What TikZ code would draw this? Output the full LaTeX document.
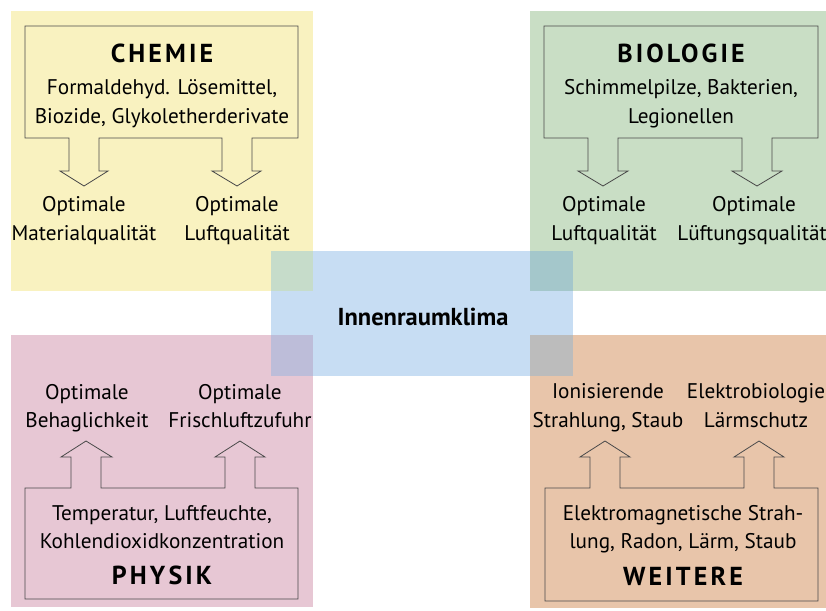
\documentclass[tikz,border=0pt]{standalone}
\usepackage{fontspec}
\setmainfont{PT Sans}
\definecolor{cyel}{HTML}{F9F2C0}
\definecolor{cgrn}{HTML}{C9DEC5}
\definecolor{cpnk}{HTML}{E7C7D4}
\definecolor{corg}{HTML}{E8C5AA}
\definecolor{cblu}{HTML}{C7DDF3}
\definecolor{oyel}{HTML}{C6DCCA}
\definecolor{ogrn}{HTML}{A4C7CB}
\definecolor{opnk}{HTML}{BDBDD9}
\definecolor{oorg}{HTML}{BCBCBC}
\definecolor{cline}{HTML}{4A4A4A}
\begin{document}
\begin{tikzpicture}[x=1pt,y=-1pt,
  frame/.style={draw=cline,line width=0.8pt,line join=miter},
  txt/.style={anchor=base,inner sep=0pt,font=\fontsize{21.2}{24}\selectfont},
  head/.style={anchor=base,inner sep=0pt,font=\fontsize{26}{30}\selectfont\bfseries\addfontfeature{LetterSpace=12}},
  center/.style={anchor=base,inner sep=0pt,font=\fontsize{24.5}{28}\selectfont\bfseries}]
\useasboundingbox (0,0) rectangle (826,610);
\clip (0,0) rectangle (826,610);
% backgrounds
\fill[cyel] (11,11) rectangle (313,291);
\fill[cgrn] (530,11) rectangle (826,291);
\fill[cpnk] (11,335) rectangle (313,607);
\fill[corg] (530,335) rectangle (826,608);
\fill[cblu] (271,251) rectangle (573,376);
\fill[oyel] (271,251) rectangle (313,291);
\fill[ogrn] (530,251) rectangle (573,291);
\fill[opnk] (271,335) rectangle (313,376);
\fill[oorg] (530,335) rectangle (573,376);
% CHEMIE frame
\draw[frame] (25,26) -- (298,26) -- (298,138) -- (252,138) -- (252,171) -- (261,171) -- (237,186) -- (212,171) -- (222,171) -- (222,138)
  -- (99,138) -- (99,171) -- (108,171) -- (84,186) -- (60,171) -- (69,171) -- (69,138) -- (25,138) -- cycle;
% BIOLOGIE frame
\draw[frame] (544,26) -- (818,26) -- (818,138) -- (772,138) -- (772,171) -- (782,171) -- (757,186) -- (732,171) -- (742,171) -- (742,138)
  -- (618,138) -- (618,171) -- (628,171) -- (603,186) -- (578,171) -- (588,171) -- (588,138) -- (544,138) -- cycle;
% PHYSIK frame
\draw[frame] (25,599) -- (298,599) -- (298,488) -- (255,488) -- (255,457) -- (265,457) -- (240,441) -- (215,457) -- (225,457) -- (225,488)
  -- (101,488) -- (101,457) -- (112,457) -- (86,441) -- (61,457) -- (71,457) -- (71,488) -- (25,488) -- cycle;
% WEITERE frame
\draw[frame] (545,601) -- (818,601) -- (818,488) -- (774,488) -- (774,457) -- (784,457) -- (759,441) -- (734,457) -- (744,457) -- (744,488)
  -- (620,488) -- (620,457) -- (630,457) -- (605,441) -- (580,457) -- (590,457) -- (590,488) -- (545,488) -- cycle;
% texts CHEMIE
\node[head] (chh) at (162,63) {CHEMIE};
\node[txt] (ch1) at (162,94) {Formaldehyd. Lösemittel,};
\node[txt] (ch2) at (162,123) {Biozide, Glykoletherderivate};
\node[txt] (ch3) at (84,211) {Optimale};
\node[txt] (ch4) at (84,240) {Materialqualität};
\node[txt] (ch5) at (237,211) {Optimale};
\node[txt] (ch6) at (237,240) {Luftqualität};
% BIOLOGIE
\node[head] (bih) at (681,63) {BIOLOGIE};
\node[txt] (bi1) at (681,94) {Schimmelpilze, Bakterien,};
\node[txt] (bi2) at (681,123) {Legionellen};
\node[txt] (bi3) at (604,211) {Optimale};
\node[txt] (bi4) at (604,240) {Luftqualität};
\node[txt] (bi5) at (754,211) {Optimale};
\node[txt] (bi6) at (752,240) {Lüftungsqualität};
% PHYSIK
\node[txt] (ph3) at (87,399) {Optimale};
\node[txt] (ph4) at (87,427) {Behaglichkeit};
\node[txt] (ph5) at (240,399) {Optimale};
\node[txt] (ph6) at (240,427) {Frischluftzufuhr};
\node[txt] (ph1) at (162,520) {Temperatur, Luftfeuchte,};
\node[txt] (ph2) at (162,548) {Kohlendioxidkonzentration};
\node[head] (phh) at (162,584) {PHYSIK};
% WEITERE
\node[txt] (we3) at (608,398) {Ionisierende};
\node[txt] (we4) at (608,427) {Strahlung, Staub};
\node[txt] (we5) at (756,398) {Elektrobiologie};
\node[txt] (we6) at (756,427) {Lärmschutz};
\node[txt] (we1) at (683,520) {Elektromagnetische Strah-};
\node[txt] (we2) at (683,548) {lung, Radon, Lärm, Staub};
\node[head] (weh) at (683,585) {WEITERE};
% center
\node[center] (mid) at (423,325) {Innenraumklima};
\end{tikzpicture}
\end{document}
